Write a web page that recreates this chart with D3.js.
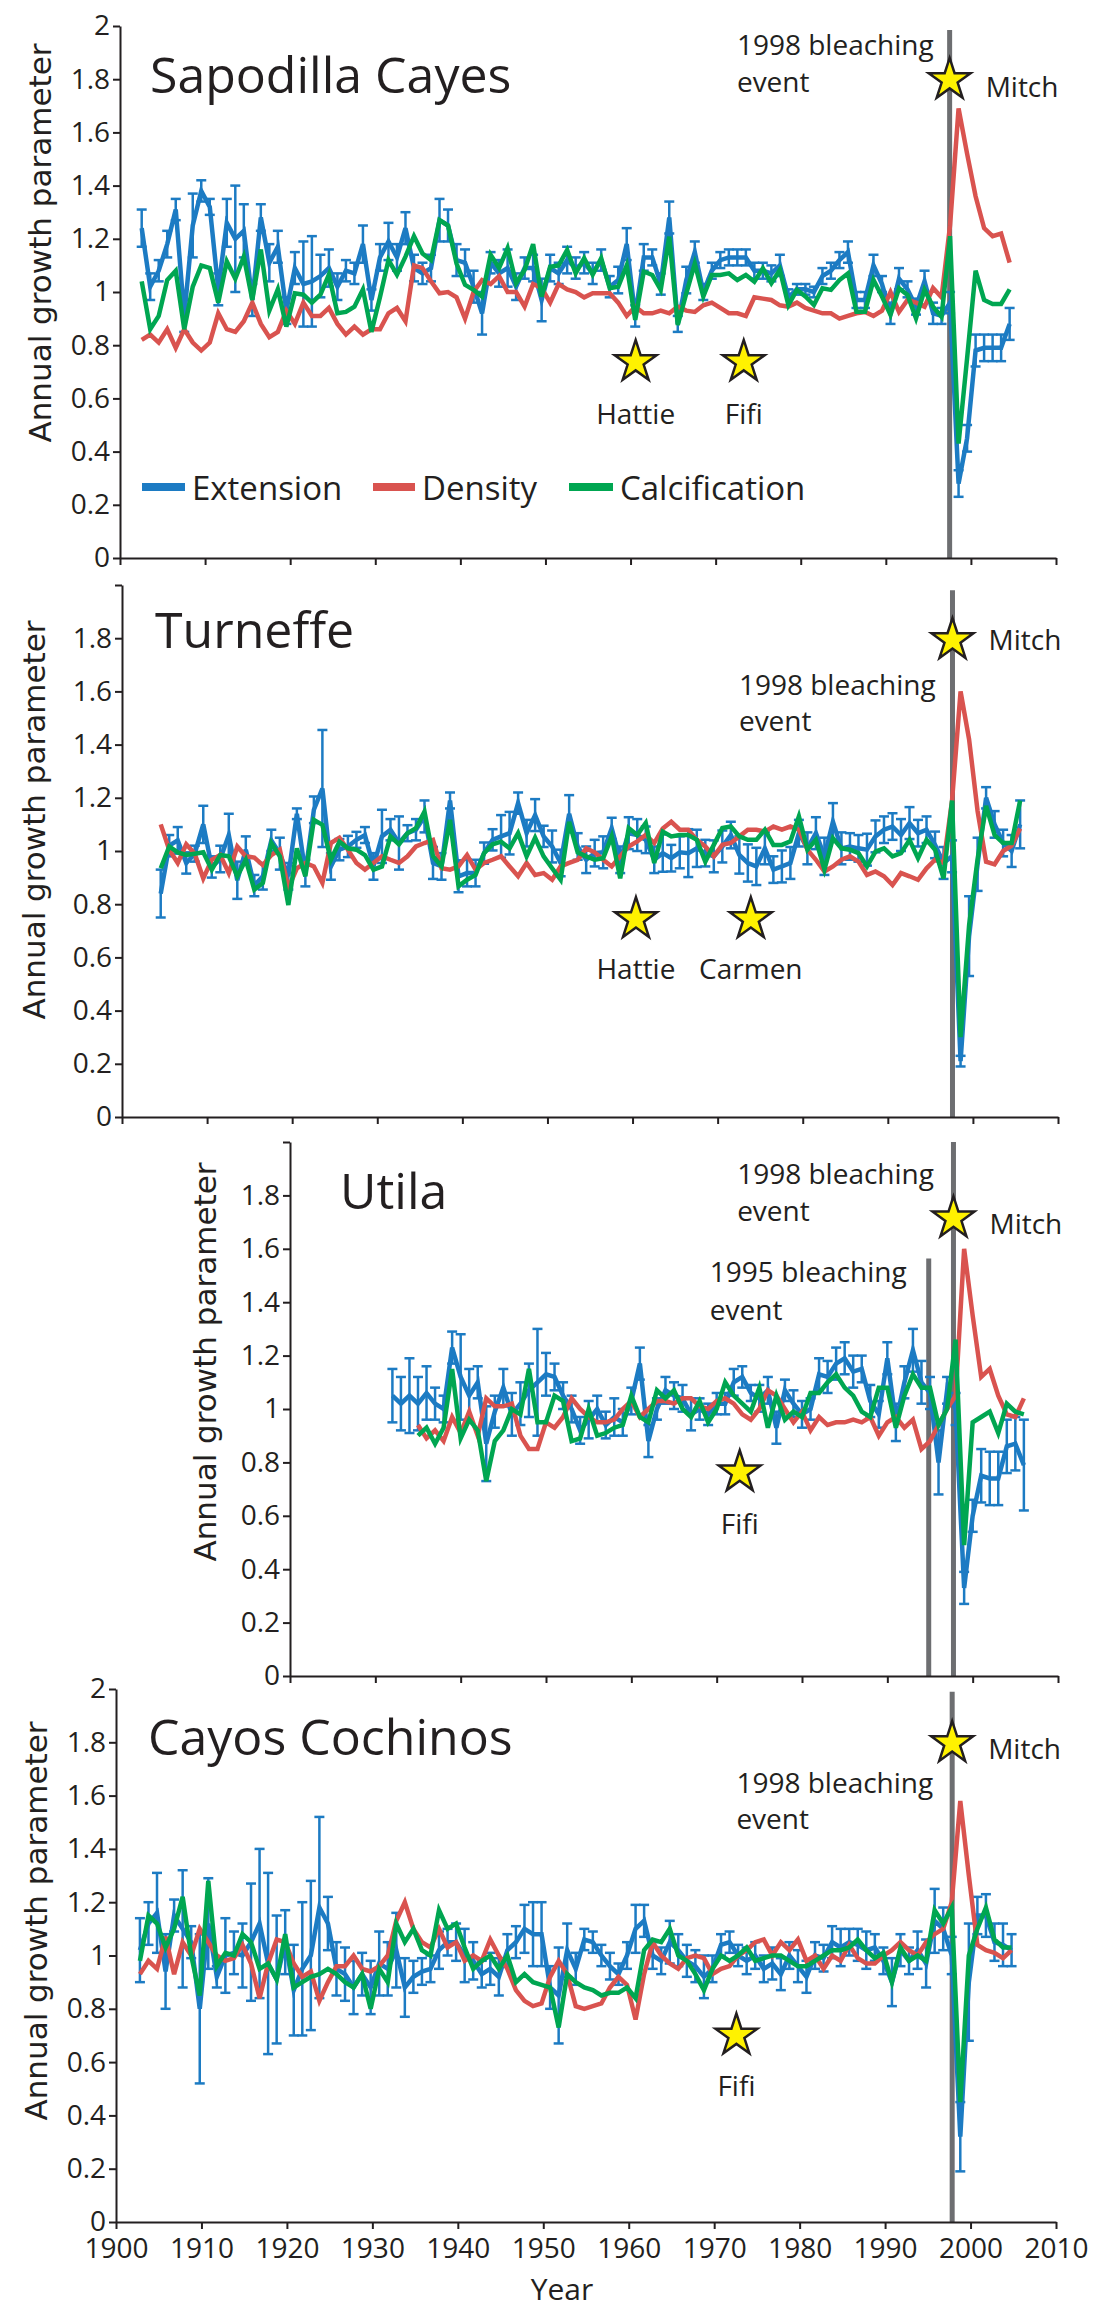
<!DOCTYPE html>
<html>
<head>
<meta charset="utf-8">
<script src="https://cdn.jsdelivr.net/npm/d3@7"></script>
<style>
  body { margin: 0; background: #fff; }
  svg text { fill: #231f20; }
</style>
</head>
<body>
<svg id="chart" width="1104" height="2310"></svg>
<script>
// Annual growth parameters (extension, density, calcification) for four reef sites

const yTicks = [0, 0.2, 0.4, 0.6, 0.8, 1, 1.2, 1.4, 1.6, 1.8, 2];
const decadeTicks = [1900, 1910, 1920, 1930, 1940, 1950, 1960, 1970, 1980, 1990, 2000, 2010];
const seriesNames = ['Extension', 'Density', 'Calcification'];

// Sapodilla Cayes, 1903-2005
const sapodillaStart = 1903;
const sapodillaExtension = [
  1.24, 1.02, 1.08, 1.18, 1.31, 0.91, 1.25, 1.38, 1.32, 1.01,
  1.26, 1.20, 1.23, 0.97, 1.28, 1.11, 1.17, 0.93, 1.09, 1.03,
  1.04, 1.06, 1.09, 1.02, 1.08, 1.07, 1.18, 0.97, 1.13, 1.19,
  1.13, 1.24, 1.09, 1.07, 1.09, 1.27, 1.25, 1.12, 1.11, 1.02,
  0.92, 1.11, 1.07, 1.09, 1.02, 1.09, 1.09, 0.97, 1.09, 1.07,
  1.12, 1.09, 1.11, 1.07, 1.12, 1.02, 1.045, 1.18, 0.91, 1.13,
  1.13, 1.03, 1.28, 0.88, 1.045, 1.15, 1.00, 1.08, 1.12, 1.13,
  1.13, 1.13, 1.08, 1.08, 1.07, 1.10, 0.98, 1.01, 1.01, 1.00,
  1.06, 1.08, 1.12, 1.15, 0.97, 0.97, 1.10, 1.03, 0.92, 1.05,
  1.01, 0.945, 1.04, 0.92, 0.91, 0.96, 0.28, 0.45, 0.78, 0.79,
  0.79, 0.79, 0.88
];
const sapodillaDensity = [
  0.82, 0.84, 0.81, 0.86, 0.79, 0.86, 0.81, 0.78, 0.81, 0.92,
  0.86, 0.85, 0.89, 0.96, 0.88, 0.83, 0.85, 0.93, 0.88, 0.96,
  0.91, 0.91, 0.94, 0.88, 0.84, 0.87, 0.84, 0.86, 0.86, 0.92,
  0.94, 0.89, 1.10, 1.09, 1.04, 0.995, 1.00, 0.98, 0.90, 1.00,
  1.045, 1.03, 1.06, 1.00, 1.00, 0.945, 1.03, 1.015, 0.96, 1.03,
  1.01, 1.00, 0.98, 0.995, 0.995, 0.995, 0.96, 0.91, 0.945, 0.92,
  0.92, 0.93, 0.92, 0.945, 0.93, 0.925, 0.95, 0.96, 0.94, 0.92,
  0.92, 0.91, 0.98, 0.975, 0.97, 0.95, 0.945, 0.96, 0.94, 0.93,
  0.92, 0.92, 0.90, 0.91, 0.92, 0.925, 0.91, 0.93, 1.00, 0.925,
  0.97, 0.96, 0.945, 1.015, 0.98, 1.25, 1.69, 1.52, 1.36, 1.24,
  1.21, 1.22, 1.11
];
const sapodillaCalcification = [
  1.04, 0.86, 0.91, 1.045, 1.08, 0.86, 1.02, 1.10, 1.09, 0.96,
  1.115, 1.05, 1.133, 0.97, 1.16, 0.93, 1.01, 0.87, 0.995, 0.99,
  0.96, 0.99, 1.065, 0.92, 0.925, 0.945, 1.01, 0.85, 0.98, 1.12,
  1.065, 1.133, 1.21, 1.145, 1.12, 1.27, 1.25, 1.107, 1.027, 1.008,
  0.983, 1.14, 1.09, 1.165, 1.033, 1.083, 1.18, 0.983, 1.095, 1.10,
  1.158, 1.07, 1.127, 1.065, 1.127, 1.014, 1.02, 1.10, 0.895, 1.077,
  1.064, 1.008, 1.208, 0.876, 0.995, 1.107, 0.983, 1.064, 1.064, 1.07,
  1.045, 1.064, 1.039, 1.089, 1.033, 1.083, 0.951, 1.008, 0.983, 0.951,
  1.014, 1.008, 1.045, 1.07, 0.926, 0.926, 1.045, 0.983, 0.914, 1.014,
  0.989, 0.901, 1.008, 0.945, 0.907, 1.21, 0.43, 0.75, 1.08, 0.97,
  0.955, 0.955, 1.01
];
const sapodillaError = [
  0.07, 0.05, 0.04, 0.05, 0.04, 0.06, 0.12, 0.04, 0.03, 0.06,
  0.09, 0.20, 0.10, 0.06, 0.05, 0.07, 0.06, 0.05, 0.06, 0.16,
  0.17, 0.08, 0.07, 0.05, 0.04, 0.04, 0.07, 0.04, 0.05, 0.07,
  0.05, 0.06, 0.05, 0.04, 0.05, 0.08, 0.06, 0.06, 0.05, 0.06,
  0.08, 0.04, 0.05, 0.07, 0.05, 0.04, 0.05, 0.08, 0.05, 0.04,
  0.05, 0.04, 0.04, 0.04, 0.04, 0.04, 0.05, 0.06, 0.04, 0.05,
  0.03, 0.04, 0.06, 0.03, 0.05, 0.04, 0.03, 0.03, 0.03, 0.03,
  0.03, 0.03, 0.03, 0.03, 0.03, 0.04, 0.03, 0.02, 0.02, 0.02,
  0.03, 0.03, 0.03, 0.04, 0.03, 0.03, 0.04, 0.03, 0.04, 0.04,
  0.03, 0.03, 0.04, 0.04, 0.03, 0.04, 0.05, 0.05, 0.06, 0.05,
  0.05, 0.05, 0.06
];

// Turneffe, 1905-2006
const turneffeStart = 1905;
const turneffeExtension = [
  0.84, 1.02, 1.04, 0.955, 0.99, 1.10, 0.94, 0.97, 1.06, 0.89,
  1.005, 0.87, 0.905, 1.04, 0.99, 0.905, 1.14, 0.917, 1.155, 1.235,
  0.942, 1.005, 1.017, 1.042, 1.06, 0.942, 1.055, 1.08, 1.03, 1.067,
  1.08, 1.13, 0.955, 0.942, 1.19, 0.905, 0.917, 0.917, 0.992, 1.042,
  1.055, 1.067, 1.18, 1.067, 1.135, 1.055, 1.017, 0.955, 1.14, 1.017,
  0.967, 0.992, 0.995, 1.085, 0.967, 1.067, 1.06, 1.042, 0.967, 0.992,
  0.973, 0.995, 0.992, 1.01, 0.992, 0.98, 1.017, 1.06, 0.985, 0.955,
  0.942, 1.01, 0.93, 0.942, 0.955, 1.067, 1.01, 1.067, 0.98, 1.11,
  1.01, 1.017, 1.01, 1.005, 1.055, 1.08, 1.092, 1.06, 1.105, 1.067,
  1.08, 1.023, 0.955, 0.98, 0.21, 0.68, 0.95, 1.20, 1.10, 1.03,
  1.00, 1.10
];
const turneffeDensity = [
  1.10, 1.005, 0.955, 1.025, 0.99, 0.897, 0.967, 0.985, 0.917, 1.017,
  0.98, 0.975, 0.947, 0.985, 1.005, 0.86, 0.935, 0.955, 0.942, 0.88,
  1.03, 1.05, 1.005, 0.955, 0.93, 0.955, 0.98, 0.967, 0.955, 0.98,
  1.017, 1.03, 1.042, 0.935, 0.93, 0.942, 0.985, 0.93, 0.955, 0.967,
  0.98, 0.942, 0.905, 0.955, 0.91, 0.917, 0.892, 0.942, 0.955, 0.967,
  1.01, 0.995, 0.967, 0.942, 0.98, 1.017, 1.036, 1.06, 1.03, 1.085,
  1.11, 1.08, 1.08, 1.042, 1.017, 0.98, 1.023, 1.03, 1.055, 1.08,
  1.08, 1.073, 1.092, 1.08, 1.092, 1.08, 1.005, 0.967, 0.923, 0.942,
  0.967, 0.98, 0.96, 0.91, 0.923, 0.905, 0.872, 0.917, 0.905, 0.892,
  0.935, 0.967, 0.955, 1.19, 1.60, 1.42, 1.15, 0.96, 0.95, 1.00,
  1.02, 1.085
];
const turneffeCalcification = [
  0.935, 1.017, 0.995, 0.985, 0.99, 0.995, 0.93, 0.985, 0.98, 0.905,
  0.967, 0.855, 0.88, 1.03, 0.98, 0.797, 1.01, 0.905, 1.117, 1.098,
  0.967, 1.035, 1.01, 1.005, 0.985, 0.93, 0.942, 1.055, 1.025, 1.067,
  1.086, 1.148, 0.98, 0.942, 1.117, 0.867, 0.892, 0.91, 0.992, 1.025,
  1.035, 1.01, 1.067, 0.98, 1.05, 0.98, 0.935, 0.892, 1.11, 0.995,
  0.98, 0.967, 0.973, 1.055, 0.897, 1.086, 1.06, 1.105, 0.955, 1.073,
  1.055, 1.06, 1.06, 1.042, 0.96, 1.023, 1.086, 1.092, 1.055, 1.042,
  1.042, 1.08, 1.023, 1.023, 1.036, 1.13, 1.005, 1.042, 0.93, 1.048,
  1.01, 1.005, 0.992, 0.942, 0.998, 1.01, 0.98, 0.992, 1.042, 0.973,
  1.042, 1.005, 0.897, 1.19, 0.30, 0.72, 0.97, 1.17, 1.06, 1.03,
  1.03, 1.19
];
const turneffeError = [
  0.09, 0.04, 0.05, 0.04, 0.03, 0.07, 0.04, 0.05, 0.08, 0.07,
  0.05, 0.04, 0.05, 0.04, 0.06, 0.05, 0.02, 0.05, 0.05, 0.22,
  0.05, 0.04, 0.04, 0.03, 0.03, 0.05, 0.10, 0.04, 0.10, 0.03,
  0.04, 0.06, 0.06, 0.05, 0.03, 0.06, 0.05, 0.05, 0.04, 0.04,
  0.08, 0.08, 0.04, 0.05, 0.06, 0.04, 0.06, 0.05, 0.07, 0.05,
  0.05, 0.05, 0.06, 0.04, 0.05, 0.06, 0.06, 0.05, 0.05, 0.07,
  0.05, 0.06, 0.09, 0.07, 0.05, 0.06, 0.06, 0.05, 0.07, 0.07,
  0.07, 0.06, 0.05, 0.06, 0.06, 0.05, 0.06, 0.06, 0.07, 0.07,
  0.06, 0.05, 0.05, 0.06, 0.06, 0.05, 0.05, 0.06, 0.06, 0.05,
  0.05, 0.05, 0.06, 0.06, 0.02, 0.15, 0.10, 0.04, 0.05, 0.05,
  0.06, 0.09
];

// Utila: extension 1932-2006, density and calcification 1935-2006
const utilaExtensionStart = 1932;
const utilaStart = 1935;
const utilaExtension = [
  1.05, 1.02, 1.05, 1.02, 1.06, 1.02, 1.00, 1.23, 1.12, 1.05,
  1.10, 0.87, 0.99, 1.08, 0.98, 1.02, 1.07, 1.10, 1.13, 1.12,
  1.05, 1.00, 0.92, 0.96, 1.00, 0.94, 0.97, 0.95, 1.03, 1.17,
  0.88, 1.00, 1.07, 1.05, 1.04, 0.98, 1.00, 0.98, 1.02, 1.02,
  1.10, 1.12, 1.06, 1.04, 1.07, 0.93, 1.07, 1.02, 0.98, 1.00,
  1.13, 1.12, 1.17, 1.19, 1.14, 1.15, 1.03, 0.98, 1.19, 0.95,
  1.10, 1.22, 1.10, 1.06, 0.80, 1.07, 1.00, 0.33, 0.60, 0.75,
  0.74, 0.74, 0.86, 0.87, 0.79
];
const utilaDensity = [
  0.94, 0.89, 0.92, 0.88, 0.97, 0.91, 0.99, 0.90, 1.04, 1.01,
  1.01, 1.02, 0.90, 0.85, 0.85, 0.95, 0.93, 0.97, 1.04, 1.00,
  0.97, 0.95, 0.95, 0.96, 1.00, 1.03, 0.97, 1.00, 1.03, 1.03,
  1.02, 1.04, 1.04, 1.01, 1.00, 1.03, 1.04, 1.02, 0.98, 0.96,
  1.00, 1.07, 1.05, 1.00, 0.95, 0.99, 0.92, 0.97, 0.94, 0.95,
  0.95, 0.96, 0.95, 0.97, 0.90, 0.95, 0.97, 0.93, 0.96, 0.85,
  0.88, 0.94, 1.00, 1.05, 1.60, 1.35, 1.12, 1.15, 1.05, 0.98,
  0.97, 1.04
];
const utilaCalcification = [
  0.90, 0.93, 0.87, 0.93, 1.15, 0.89, 0.96, 0.92, 0.73, 0.88,
  0.92, 1.00, 0.98, 1.15, 0.95, 0.95, 1.05, 1.03, 0.88, 0.89,
  1.00, 0.90, 0.91, 0.93, 0.94, 1.05, 0.97, 0.95, 1.07, 1.04,
  1.07, 1.00, 0.97, 1.03, 0.95, 1.00, 1.10, 1.05, 1.02, 0.99,
  1.08, 0.93, 1.05, 0.96, 0.99, 0.97, 1.06, 1.06, 1.10, 1.13,
  1.08, 1.05, 0.99, 0.97, 1.08, 1.08, 0.93, 1.05, 1.13, 1.08,
  1.08, 0.94, 1.00, 1.26, 0.49, 0.95, 0.97, 0.99, 0.91, 1.02,
  0.99, 0.98
];
const utilaError = [
  0.10, 0.10, 0.14, 0.10, 0.10, 0.06, 0.05, 0.06, 0.16, 0.10,
  0.06, 0.14, 0.06, 0.07, 0.08, 0.08, 0.10, 0.20, 0.08, 0.05,
  0.05, 0.05, 0.05, 0.07, 0.05, 0.05, 0.07, 0.05, 0.05, 0.06,
  0.06, 0.04, 0.05, 0.05, 0.05, 0.06, 0.04, 0.04, 0.04, 0.04,
  0.05, 0.04, 0.03, 0.05, 0.05, 0.06, 0.04, 0.05, 0.05, 0.04,
  0.06, 0.06, 0.06, 0.06, 0.06, 0.05, 0.06, 0.05, 0.06, 0.07,
  0.06, 0.08, 0.08, 0.06, 0.12, 0.05, 0.06, 0.06, 0.06, 0.10,
  0.10, 0.10, 0.10, 0.10, 0.17
];

// Cayos Cochinos, 1903-2005
const cochinosStart = 1903;
const cochinosExtension = [
  1.02, 1.12, 1.16, 0.94, 1.15, 1.10, 1.05, 0.80, 1.12, 0.92,
  1.00, 1.01, 1.00, 1.05, 1.12, 0.97, 0.91, 1.05, 0.87, 0.95,
  1.00, 1.18, 1.12, 0.95, 0.93, 0.88, 0.93, 0.88, 0.97, 0.95,
  1.02, 0.88, 0.92, 0.94, 0.95, 1.02, 1.05, 1.05, 1.00, 0.98,
  0.93, 0.95, 0.92, 1.02, 1.05, 1.10, 1.08, 1.08, 0.88, 0.85,
  1.02, 0.95, 1.06, 1.05, 1.00, 0.96, 0.93, 1.00, 1.10, 1.13,
  1.00, 0.98, 1.05, 1.02, 0.98, 0.96, 0.92, 0.95, 1.04, 1.05,
  1.00, 0.98, 1.00, 0.95, 0.97, 0.93, 1.00, 0.96, 0.92, 1.00,
  0.99, 1.05, 1.03, 1.05, 1.04, 1.02, 1.03, 0.98, 0.90, 1.02,
  0.98, 1.02, 0.97, 1.13, 1.10, 1.00, 0.32, 0.90, 1.15, 1.15,
  1.05, 1.04, 1.02
];
const cochinosDensity = [
  0.93, 0.98, 0.95, 1.07, 0.93, 1.05, 1.00, 1.10, 1.05, 1.00,
  0.98, 0.99, 1.04, 0.97, 0.84, 0.97, 1.06, 1.05, 0.97, 0.92,
  0.94, 0.83, 0.90, 0.96, 0.96, 1.00, 0.95, 0.94, 0.96, 1.00,
  1.13, 1.20, 1.10, 1.05, 1.03, 1.10, 1.03, 1.05, 0.98, 1.00,
  0.98, 1.06, 1.00, 0.95, 0.87, 0.83, 0.81, 0.82, 0.92, 0.98,
  0.93, 0.81, 0.80, 0.81, 0.82, 0.88, 0.92, 0.89, 0.76, 0.93,
  1.05, 1.00, 0.97, 0.95, 0.99, 1.00, 0.99, 0.93, 0.95, 0.96,
  1.00, 1.02, 1.05, 1.06, 1.00, 1.05, 1.02, 1.06, 0.98, 1.00,
  0.95, 1.00, 0.98, 1.04, 0.99, 0.97, 0.97, 1.00, 1.02, 1.05,
  1.02, 1.00, 1.05, 1.08, 1.10, 1.20, 1.58, 1.30, 1.04, 1.02,
  1.01, 0.99, 1.02
];
const cochinosCalcification = [
  0.98, 1.15, 1.12, 1.03, 1.10, 1.22, 1.00, 0.85, 1.28, 0.96,
  1.01, 1.00, 1.08, 1.05, 0.95, 0.97, 0.91, 1.08, 0.88, 0.90,
  0.92, 0.93, 0.95, 0.93, 0.90, 0.88, 0.93, 0.80, 0.95, 0.90,
  1.12, 1.05, 1.10, 1.02, 1.00, 1.17, 1.10, 1.12, 1.03, 0.95,
  0.98, 1.00, 0.95, 1.00, 0.90, 0.93, 0.90, 0.89, 0.88, 0.73,
  0.93, 0.90, 0.88, 0.87, 0.85, 0.86, 0.86, 0.88, 0.84, 1.02,
  1.06, 1.05, 1.10, 1.00, 0.98, 0.93, 0.87, 0.95, 1.00, 0.98,
  1.00, 1.03, 0.98, 0.99, 1.00, 1.00, 0.98, 0.96, 0.96, 0.98,
  1.00, 1.02, 1.02, 1.03, 1.06, 1.02, 0.99, 1.01, 0.90, 1.03,
  0.98, 1.00, 0.98, 1.17, 1.12, 1.18, 0.45, 1.00, 1.10, 1.18,
  1.06, 1.03, 1.03
];
const cochinosError = [
  0.12, 0.08, 0.15, 0.14, 0.06, 0.22, 0.06, 0.28, 0.17, 0.04,
  0.14, 0.08, 0.12, 0.22, 0.28, 0.34, 0.24, 0.12, 0.17, 0.25,
  0.28, 0.34, 0.10, 0.10, 0.10, 0.10, 0.08, 0.10, 0.12, 0.10,
  0.14, 0.11, 0.06, 0.05, 0.05, 0.07, 0.05, 0.07, 0.10, 0.07,
  0.05, 0.06, 0.07, 0.06, 0.06, 0.09, 0.12, 0.12, 0.08, 0.18,
  0.10, 0.06, 0.04, 0.04, 0.04, 0.05, 0.04, 0.05, 0.09, 0.06,
  0.05, 0.05, 0.08, 0.06, 0.06, 0.06, 0.08, 0.05, 0.04, 0.04,
  0.04, 0.05, 0.05, 0.05, 0.06, 0.06, 0.05, 0.06, 0.06, 0.05,
  0.05, 0.06, 0.07, 0.05, 0.06, 0.07, 0.05, 0.05, 0.09, 0.06,
  0.05, 0.07, 0.09, 0.12, 0.08, 0.07, 0.13, 0.22, 0.07, 0.08,
  0.07, 0.08, 0.06
];

// Events: [label, year, value]
const sapodillaStorms = [['Hattie', 1960.6, 0.737], ['Fifi', 1973.3, 0.737]];
const turneffeStorms = [['Hattie', 1960.4, 0.744], ['Carmen', 1973.9, 0.744]];
const utilaStorms = [['Fifi', 1972.7, 0.763]];
const cochinosStorms = [['Fifi', 1972.6, 0.70]];

const colors = { Extension: '#1c7bc3', Density: '#d9534f', Calcification: '#00a651' };
const ink = '#231f20';
const bodyFont = '"Open Sans", sans-serif';

// layout of the four stacked panels
const panels = [
  {
    title: 'Sapodilla Cayes', top: 26, bottom: 558, left: 120, right: 1056, x0: 1900, shift: -0.45,
    topLabel: true, xLabels: false, titlePos: [150, 93], yTitlePos: [51, 243], legend: true,
    ext: [sapodillaStart, sapodillaExtension], den: [sapodillaStart, sapodillaDensity],
    cal: [sapodillaStart, sapodillaCalcification], err: sapodillaError,
    bleach: [[1997.5, 1.985]], mitch: [1997.5, 1.797, 1.733],
    notes: [['1998 bleaching', 1972.5, 1.891], ['event', 1972.5, 1.752]],
    storms: sapodillaStorms, stormLabel: 0.504
  },
  {
    title: 'Turneffe', top: 585, bottom: 1117, left: 122, right: 1058, x0: 1900, shift: -0.45,
    topLabel: false, xLabels: false, titlePos: [155, 648], yTitlePos: [45, 820],
    ext: [turneffeStart, turneffeExtension], den: [turneffeStart, turneffeDensity],
    cal: [turneffeStart, turneffeCalcification], err: turneffeError,
    bleach: [[1997.6, 1.98]], mitch: [1997.6, 1.793, 1.756],
    notes: [['1998 bleaching', 1972.5, 1.586], ['event', 1972.5, 1.45]],
    storms: turneffeStorms, stormLabel: 0.519
  },
  {
    title: 'Utila', top: 1142, bottom: 1676, left: 290, right: 1058, x0: 1920, shift: 0,
    topLabel: false, xLabels: false, titlePos: [340, 1209], yTitlePos: [216, 1362],
    ext: [utilaExtensionStart, utilaExtension], den: [utilaStart, utilaDensity],
    cal: [utilaStart, utilaCalcification], err: utilaError,
    bleach: [[1997.75, 2], [1994.85, 1.564]], mitch: [1997.75, 1.714, 1.654],
    notes: [['1998 bleaching', 1972.4, 1.842], ['event', 1972.4, 1.703],
            ['1995 bleaching', 1969.2, 1.474], ['event', 1969.2, 1.335]],
    storms: utilaStorms, stormLabel: 0.53
  },
  {
    title: 'Cayos Cochinos', top: 1689, bottom: 2222, left: 116, right: 1056, x0: 1900, shift: -0.2,
    topLabel: true, xLabels: true, titlePos: [148, 1755], yTitlePos: [47, 1921],
    ext: [cochinosStart, cochinosExtension], den: [cochinosStart, cochinosDensity],
    cal: [cochinosStart, cochinosCalcification], err: cochinosError,
    bleach: [[1997.85, 1.99]], mitch: [1997.85, 1.797, 1.737],
    notes: [['1998 bleaching', 1972.6, 1.61], ['event', 1972.6, 1.475]],
    storms: cochinosStorms, stormLabel: 0.473
  }
];

const svg = d3.select('#chart');

function toPoints(start, values) {
  return values.map((v, i) => ({ year: start + i, value: v }));
}

function fmtY(d) {
  if (d === 0) return '0';
  return Math.abs(d - Math.round(d)) < 1e-9 ? String(Math.round(d)) : d.toFixed(1);
}

function addText(g, x, y, size, txt) {
  return g.append('text').attr('x', x).attr('y', y)
    .style('font-family', bodyFont).style('font-size', size + 'px').text(txt);
}

function drawPanel(p) {
  const g = svg.append('g');
  const x = d3.scaleLinear().domain([p.x0, 2010]).range([p.left, p.right]);
  const y = d3.scaleLinear().domain([0, 2]).range([p.bottom, p.top]);
  const px = yr => x(yr + p.shift);

  // bleaching event lines sit behind the data
  p.bleach.forEach(([yr, v]) => {
    g.append('line')
      .attr('x1', x(yr)).attr('x2', x(yr))
      .attr('y1', y(v)).attr('y2', y(0))
      .attr('stroke', '#6d6e71').attr('stroke-width', 5);
  });

  // error bars on extension
  const ext = toPoints(p.ext[0], p.ext[1]);
  const bars = g.append('g').attr('stroke', colors.Extension).attr('stroke-width', 2.5);
  ext.forEach((d, i) => {
    const e = p.err[i];
    if (e === undefined) return;
    const cx = px(d.year);
    bars.append('line').attr('x1', cx).attr('x2', cx)
      .attr('y1', y(d.value - e)).attr('y2', y(d.value + e));
    [d.value - e, d.value + e].forEach(v => {
      bars.append('line').attr('x1', cx - 5).attr('x2', cx + 5)
        .attr('y1', y(v)).attr('y2', y(v));
    });
  });

  const line = d3.line().x(d => px(d.year)).y(d => y(d.value));
  const series = [
    ['Extension', ext],
    ['Density', toPoints(p.den[0], p.den[1])],
    ['Calcification', toPoints(p.cal[0], p.cal[1])]
  ];
  series.forEach(([name, pts]) => {
    g.append('path').datum(pts)
      .attr('d', line)
      .attr('fill', 'none')
      .attr('stroke', colors[name])
      .attr('stroke-width', 4.5)
      .attr('stroke-linejoin', 'miter');
  });

  // axes
  const yAxis = d3.axisLeft(y).tickValues(yTicks).tickSize(7).tickSizeOuter(0).tickPadding(3)
    .tickFormat(d => (d === 2 && !p.topLabel) ? '' : fmtY(d));
  const xAxis = d3.axisBottom(x).tickValues(decadeTicks.filter(t => t >= p.x0))
    .tickSize(7).tickSizeOuter(0).tickPadding(9)
    .tickFormat(p.xLabels ? d3.format('d') : () => '');
  const ya = g.append('g').attr('transform', `translate(${p.left},0)`).call(yAxis);
  const xa = g.append('g').attr('transform', `translate(0,${p.bottom})`).call(xAxis);
  [ya, xa].forEach(a => {
    a.attr('color', ink);
    a.selectAll('.domain, .tick line').attr('stroke-width', 2);
    a.selectAll('text').style('font-size', '28px').style('font-family', bodyFont);
  });

  // titles
  addText(g, p.titlePos[0], p.titlePos[1], 50, p.title);
  g.append('text')
    .attr('transform', `translate(${p.yTitlePos[0]},${p.yTitlePos[1]}) rotate(-90)`)
    .attr('text-anchor', 'middle')
    .style('font-family', '"DejaVu Sans", sans-serif')
    .style('font-size', '31px')
    .text('Annual growth parameter');

  // annotations
  p.notes.forEach(([t, yr, v]) => addText(g, x(yr), y(v), 28, t));
  const star = d3.symbol(d3.symbolStar, 545);
  const stars = p.storms.map(s => [s[1], s[2]]).concat([[p.mitch[0], p.mitch[1]]]);
  stars.forEach(([yr, v]) => {
    g.append('path').attr('d', star)
      .attr('transform', `translate(${x(yr)},${y(v)})`)
      .attr('fill', '#fff200').attr('stroke', ink).attr('stroke-width', 2.5)
      .attr('stroke-linejoin', 'miter');
  });
  addText(g, x(p.mitch[0]) + 36, y(p.mitch[2]), 28, 'Mitch');
  p.storms.forEach(([t, yr]) => {
    addText(g, x(yr), y(p.stormLabel), 28, t).attr('text-anchor', 'middle');
  });

  if (p.legend) {
    const lg = g.append('g');
    const items = [[142, 185, 192], [373, 415, 422], [569, 613, 620]];
    seriesNames.forEach((name, i) => {
      const [a, b, t] = items[i];
      lg.append('line').attr('x1', a).attr('x2', b).attr('y1', 487).attr('y2', 487)
        .attr('stroke', colors[name]).attr('stroke-width', 8);
      addText(lg, t, 500, 33, name);
    });
  }
}

panels.forEach(drawPanel);

addText(svg, 562, 2300, 30, 'Year').attr('text-anchor', 'middle');
</script>
</body>
</html>
